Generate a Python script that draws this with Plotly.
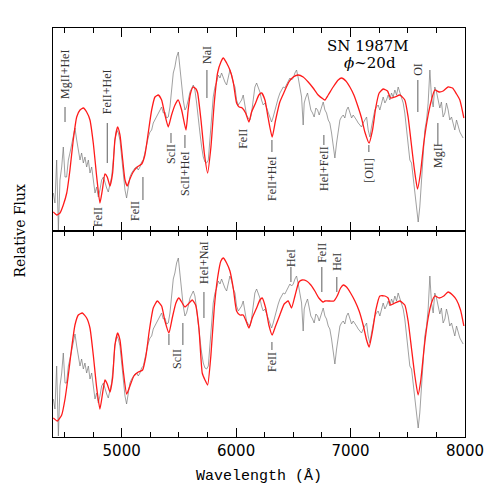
import plotly.graph_objects as go

# observed spectrum of SN 1987M (same data in both panels)
obs_wave = [
    4403, 4417, 4432, 4447, 4461, 4476, 4490, 4505, 4519, 4534, 4548, 4563,
    4578, 4592, 4607, 4621, 4636, 4650, 4665, 4679, 4694, 4709, 4723, 4738,
    4752, 4767, 4781, 4796, 4810, 4825, 4840, 4854, 4869, 4883, 4898, 4912,
    4927, 4941, 4956, 4971, 4985, 5000, 5014, 5029, 5043, 5058, 5072, 5087,
    5102, 5116, 5131, 5145, 5160, 5174, 5189, 5203, 5218, 5233, 5247, 5262,
    5276, 5291, 5305, 5320, 5334, 5349, 5364, 5378, 5393, 5407, 5422, 5436,
    5451, 5465, 5480, 5495, 5509, 5524, 5538, 5553, 5567, 5582, 5597, 5626,
    5640, 5655, 5669, 5684, 5699, 5713, 5728, 5742, 5757, 5771, 5786, 5800,
    5815, 5830, 5844, 5859, 5873, 5888, 5902, 5917, 5931, 5946, 5961, 5975,
    5990, 6004, 6019, 6033, 6048, 6062, 6077, 6091, 6106, 6121, 6135, 6150,
    6164, 6179, 6193, 6208, 6222, 6237, 6252, 6266, 6281, 6295, 6310, 6324,
    6339, 6354, 6368, 6383, 6397, 6412, 6426, 6441, 6455, 6470, 6485, 6499,
    6514, 6528, 6543, 6557, 6572, 6586, 6595, 6607, 6624, 6636, 6653, 6668,
    6682, 6697, 6712, 6726, 6747, 6761, 6776, 6790, 6805, 6819, 6834, 6848,
    6863, 6878, 6892, 6907, 6921, 6936, 6950, 6965, 6979, 6994, 7009, 7023,
    7038, 7052, 7067, 7081, 7096, 7110, 7125, 7140, 7154, 7169, 7183, 7198,
    7212, 7227, 7241, 7256, 7271, 7285, 7300, 7314, 7329, 7343, 7358, 7372,
    7387, 7402, 7416, 7431, 7445, 7460, 7474, 7489, 7503, 7518, 7533, 7547,
    7562, 7576, 7591, 7605, 7620, 7634, 7649, 7664, 7678, 7693, 7707, 7722,
    7736, 7751, 7765, 7780, 7794, 7809, 7824, 7838, 7853, 7867, 7882, 7896,
    7911, 7926, 7940, 7955, 7969, 7984,
]
obs_flux = [
    0.38, 0.28, 0.71, 0.01, 0.51, 0.64, 0.84, 0.54, 0.54, 0.71, 0.78, 0.88,
    0.98, 1.03, 0.91, 0.81, 0.71, 0.78, 0.68, 0.74, 0.64, 0.71, 0.58, 0.64,
    0.51, 0.38, 0.44, 0.34, 0.41, 0.51, 0.54, 0.48, 0.43, 0.39, 0.46, 0.54,
    0.71, 0.91, 1.01, 0.98, 0.91, 0.71, 0.54, 0.41, 0.33, 0.44, 0.54, 0.58,
    0.61, 0.63, 0.64, 0.61, 0.64, 0.69, 0.71, 0.78, 0.88, 0.94, 0.99, 1.01,
    1.08, 1.11, 1.14, 1.18, 1.21, 1.24, 1.18, 1.19, 1.13, 1.14, 1.24, 1.44,
    1.58, 1.64, 1.74, 1.79, 1.64, 1.44, 1.31, 1.21, 1.24, 1.31, 1.39, 1.46,
    1.41, 1.28, 1.11, 0.98, 0.84, 0.74, 0.69, 0.68, 0.71, 0.94, 1.18, 1.34,
    1.44, 1.49, 1.56, 1.53, 1.58, 1.53, 1.49, 1.46, 1.54, 1.61, 1.56, 1.48,
    1.44, 1.31, 1.26, 1.28, 1.31, 1.36, 1.24, 1.16, 1.13, 1.11, 1.18, 1.34,
    1.44, 1.48, 1.43, 1.39, 1.31, 1.26, 1.28, 1.23, 1.18, 1.14, 1.09, 1.14,
    1.21, 1.28, 1.33, 1.38, 1.41, 1.44, 1.43, 1.46, 1.49, 1.53, 1.51, 1.53,
    1.58, 1.61, 1.53, 1.44, 1.34, 1.06, 1.28, 1.33, 1.38, 1.31, 1.21, 1.18,
    1.14, 1.23, 1.21, 1.16, 1.24, 1.29, 1.21, 1.18, 1.11, 1.08, 0.98, 0.84,
    0.73, 0.88, 1.01, 1.11, 1.14, 1.16, 1.13, 1.21, 1.24, 1.18, 1.13, 1.16,
    1.14, 1.11, 1.08, 1.06, 1.04, 1.08, 1.11, 1.14, 1.01, 0.94, 1.04, 1.14,
    1.21, 1.24, 1.26, 1.21, 1.28, 1.34, 1.28, 1.31, 1.36, 1.31, 1.38, 1.34,
    1.41, 1.36, 1.44, 1.39, 1.33, 1.28, 1.18, 1.01, 0.81, 0.71, 0.68, 0.54,
    0.41, 0.21, 0.09, 0.24, 0.54, 0.81, 1.01, 1.11, 1.28, 1.61, 1.34, 1.24,
    1.44, 1.39, 1.31, 1.23, 1.29, 1.14, 1.18, 1.28, 1.21, 1.11, 1.14, 1.08,
    1.01, 1.11, 1.04, 0.99, 0.96, 0.93,
]

# synthetic spectrum, upper panel
synA_wave = [
    4403, 4432, 4461, 4490, 4520, 4548, 4577, 4607, 4636, 4665, 4694, 4723,
    4752, 4782, 4810, 4831, 4854, 4874, 4898, 4921, 4941, 4965, 4985, 5009,
    5029, 5049, 5072, 5101, 5136, 5175, 5203, 5232, 5262, 5291, 5320, 5349,
    5378, 5407, 5436, 5466, 5494, 5524, 5562, 5580, 5600, 5625, 5650, 5664,
    5693, 5722, 5751, 5780, 5809, 5838, 5867, 5888, 5917, 5946, 5975, 6004,
    6027, 6053, 6083, 6112, 6135, 6170, 6199, 6223, 6252, 6280, 6315, 6345,
    6382, 6420, 6461, 6499, 6543, 6586, 6630, 6673, 6717, 6761, 6776, 6805,
    6848, 6892, 6921, 6959, 6994, 7029, 7066, 7096, 7125, 7162, 7192, 7221,
    7250, 7285, 7323, 7349, 7387, 7431, 7474, 7503, 7527, 7555, 7585, 7611,
    7640, 7678, 7707, 7736, 7774, 7809, 7852, 7891, 7926, 7955, 7990,
]
synA_flux = [
    0.19, 0.16, 0.18, 0.26, 0.38, 0.61, 0.91, 1.14, 1.21, 1.23, 1.19, 1.11,
    0.88, 0.54, 0.28, 0.41, 0.57, 0.54, 0.45, 0.58, 0.91, 1.04, 0.96, 0.71,
    0.51, 0.45, 0.52, 0.59, 0.64, 0.67, 0.76, 0.98, 1.21, 1.34, 1.36, 1.31,
    1.16, 1.04, 1.16, 1.26, 1.31, 1.21, 1.01, 1.20, 1.37, 1.44, 1.42, 1.38,
    1.11, 0.78, 0.58, 0.84, 1.28, 1.58, 1.69, 1.73, 1.68, 1.61, 1.49, 1.28,
    1.24, 1.23, 1.18, 1.09, 1.19, 1.28, 1.36, 1.38, 1.31, 1.13, 0.94, 1.11,
    1.29, 1.39, 1.49, 1.54, 1.56, 1.54, 1.49, 1.43, 1.36, 1.32, 1.31, 1.36,
    1.44, 1.51, 1.53, 1.50, 1.44, 1.36, 1.24, 1.13, 0.99, 0.88, 1.01, 1.24,
    1.38, 1.42, 1.40, 1.33, 1.34, 1.36, 1.31, 1.14, 0.91, 0.64, 0.42, 0.58,
    0.88, 1.16, 1.31, 1.41, 1.39, 1.40, 1.44, 1.43, 1.37, 1.31, 1.13,
]

# synthetic spectrum, lower panel
synB_wave = [
    4403, 4438, 4476, 4505, 4534, 4563, 4592, 4621, 4656, 4694, 4723, 4752,
    4782, 4810, 4831, 4854, 4874, 4898, 4921, 4941, 4965, 4985, 5014, 5044,
    5072, 5107, 5145, 5183, 5212, 5241, 5276, 5311, 5349, 5378, 5413, 5442,
    5474, 5500, 5529, 5553, 5582, 5617, 5646, 5675, 5704, 5728, 5751, 5780,
    5809, 5838, 5867, 5888, 5917, 5946, 5975, 6004, 6033, 6062, 6087, 6112,
    6141, 6179, 6208, 6228, 6258, 6286, 6315, 6345, 6382, 6420, 6455, 6484,
    6514, 6549, 6577, 6616, 6653, 6688, 6723, 6761, 6776, 6819, 6854, 6883,
    6913, 6936, 6965, 7000, 7038, 7075, 7110, 7140, 7162, 7192, 7221, 7256,
    7300, 7328, 7349, 7387, 7431, 7474, 7503, 7532, 7561, 7590, 7614, 7643,
    7678, 7707, 7736, 7774, 7815, 7852, 7891, 7926, 7961, 7990,
]
synB_flux = [
    0.19, 0.16, 0.22, 0.38, 0.62, 0.89, 1.12, 1.22, 1.24, 1.19, 1.09, 0.82,
    0.49, 0.28, 0.42, 0.57, 0.53, 0.45, 0.59, 0.92, 1.04, 0.97, 0.66, 0.43,
    0.51, 0.61, 0.65, 0.67, 0.81, 1.06, 1.29, 1.36, 1.31, 1.16, 1.04, 1.19,
    1.34, 1.39, 1.34, 1.30, 1.33, 1.37, 1.32, 1.09, 0.64, 0.57, 0.52, 0.82,
    1.29, 1.59, 1.76, 1.79, 1.74, 1.66, 1.49, 1.26, 1.22, 1.22, 1.16, 1.09,
    1.19, 1.29, 1.37, 1.39, 1.29, 1.12, 1.02, 1.11, 1.22, 1.33, 1.36, 1.29,
    1.41, 1.55, 1.57, 1.56, 1.52, 1.46, 1.39, 1.35, 1.36, 1.36, 1.36, 1.41,
    1.49, 1.52, 1.50, 1.44, 1.36, 1.26, 1.12, 0.97, 0.90, 1.06, 1.27, 1.41,
    1.41, 1.39, 1.32, 1.34, 1.36, 1.32, 1.16, 0.89, 0.62, 0.42, 0.57, 0.89,
    1.19, 1.34, 1.41, 1.39, 1.41, 1.45, 1.42, 1.37, 1.27, 1.11,
]

# line identifications: text, wavelength, text height, tick from/to
ids_top = [
    ("MgII+HeI", 4505, 1.56, 1.24, 1.09),
    ("FeII+HeI", 4874, 1.39, 1.08, 0.68),
    ("FeII", 4793, 0.14, None, None),
    ("FeII", 5116, 0.20, None, None),
    ("ScII", 5431, 0.77, 0.98, 0.88),
    ("ScII+HeI", 5553, 0.58, 0.96, 0.83),
    ("NaI", 5745, 1.76, 1.61, 1.33),
    ("FeII", 6059, 0.92, None, None),
    ("FeII+HeI", 6313, 0.53, 0.91, 0.79),
    ("HeI+FeII", 6767, 0.63, 0.96, 0.86),
    ("[OII]", 7160, 0.61, 0.86, 0.79),
    ("OI", 7588, 1.62, 1.51, 1.19),
    ("MgII", 7763, 0.76, 1.08, 0.86),
]
ids_top_extra_ticks = [(5186, 0.54, 0.31)]

ids_bot = [
    ("ScII", 5483, 0.78, None, None),
    ("HeI+NaI", 5719, 1.75, 1.45, 1.19),
    ("FeII", 6313, 0.75, 0.95, 0.87),
    ("HeI", 6479, 1.79, 1.70, 1.55),
    ("FeII", 6749, 1.84, 1.70, 1.45),
    ("HeI", 6880, 1.75, 1.60, 1.45),
]
ids_bot_extra_ticks = [(5413, 1.03, 0.92), (5535, 1.14, 0.92)]

GREY = "#777777"
RED = "#ff1a1a"

fig = go.Figure()

for xa, ya, syn_w, syn_f in [("x2", "y2", synA_wave, synA_flux),
                             ("x", "y", synB_wave, synB_flux)]:
    fig.add_trace(go.Scatter(x=obs_wave, y=obs_flux, mode="lines",
                             line=dict(color=GREY, width=0.7),
                             xaxis=xa, yaxis=ya, showlegend=False))
    fig.add_trace(go.Scatter(x=syn_w, y=syn_f, mode="lines",
                             line=dict(color=RED, width=1.3, shape="spline", smoothing=0.5),
                             xaxis=xa, yaxis=ya, showlegend=False))

lab_font = dict(family="Liberation Serif", size=12, color="#333333")

for ids, extra, xr, yr in [(ids_top, ids_top_extra_ticks, "x2", "y2"),
                           (ids_bot, ids_bot_extra_ticks, "x", "y")]:
    for text, w, ty, l0, l1 in ids:
        fig.add_annotation(x=w, y=ty, xref=xr, yref=yr, text=text,
                           textangle=-90, showarrow=False, font=lab_font,
                           xanchor="center", yanchor="middle")
        if l0 is not None:
            fig.add_shape(type="line", xref=xr, yref=yr, x0=w, x1=w, y0=l0, y1=l1,
                          line=dict(color="#333333", width=0.8))
    for w, l0, l1 in extra:
        fig.add_shape(type="line", xref=xr, yref=yr, x0=w, x1=w, y0=l0, y1=l1,
                      line=dict(color="#333333", width=0.8))

fig.add_annotation(x=7151, y=1.85, xref="x2", yref="y2", text="SN 1987M",
                   showarrow=False, font=dict(family="DejaVu Serif", size=15, color="black"))
fig.add_annotation(x=7168, y=1.68, xref="x2", yref="y2", text="<i>ϕ</i>~20d",
                   showarrow=False, font=dict(family="DejaVu Serif", size=15, color="black"))
fig.add_annotation(x=-0.08, y=0.505, xref="paper", yref="paper", text="Relative Flux",
                   textangle=-90, showarrow=False, xanchor="center", yanchor="middle",
                   font=dict(family="DejaVu Serif", size=14, color="black"))

split = 206 / 409
xcommon = dict(range=[4400, 8000], showline=True, linecolor="black", linewidth=1.2,
               mirror="ticks", ticks="inside", ticklen=9, tickwidth=1, tickcolor="black",
               dtick=1000, tick0=0, showgrid=False, zeroline=False, automargin=False,
               minor=dict(dtick=250, ticks="inside", ticklen=5, tickcolor="black", tickwidth=1))
ycommon = dict(showline=True, linecolor="black", linewidth=1.2, mirror=True,
               ticks="", showticklabels=False, showgrid=False, zeroline=False,
               automargin=False)

fig.update_layout(
    width=491, height=491,
    margin=dict(l=53, r=26, t=28, b=54),
    plot_bgcolor="white", paper_bgcolor="white",
    xaxis=dict(**xcommon, anchor="y",
               tickfont=dict(family="DejaVu Sans", size=15, color="black"),
               title=dict(text="Wavelength (Å)", standoff=10,
                          font=dict(family="Liberation Mono", size=15, color="black"))),
    yaxis=dict(**ycommon, domain=[0, split], range=[0, 2.06]),
    xaxis2=dict(**xcommon, anchor="y2", matches="x", showticklabels=False),
    yaxis2=dict(**ycommon, domain=[split, 1], range=[0, 2.03]),
    showlegend=False,
)

fig.write_html("out.html", config={"displayModeBar": False},
               post_script="document.body.style.margin='0';")
